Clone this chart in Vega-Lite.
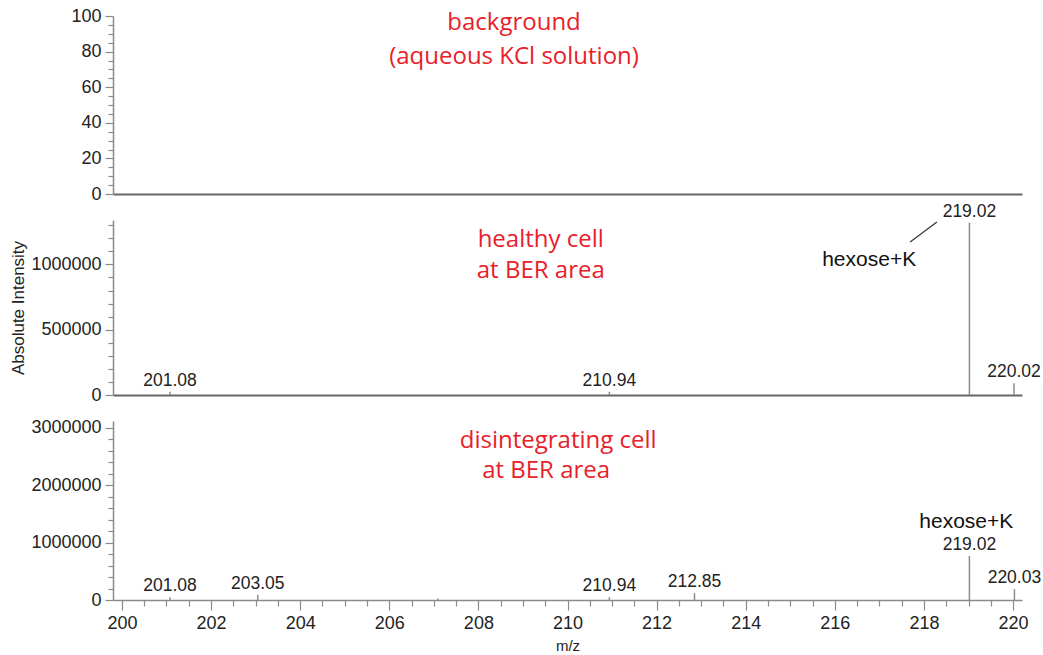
{
  "$schema": "https://vega.github.io/schema/vega-lite/v6.json",
  "padding": {"left": 9, "top": 7, "right": 0, "bottom": 0},
  "background": "white",
  "spacing": 26,
  "bounds": "flush",
  "config": {
    "view": {"stroke": null},
    "font": "Liberation Sans",
    "axis": {
      "grid": false,
      "labelOverlap": false,
      "domainColor": "#8a8a8a",
      "domainWidth": 1.5,
      "tickColor": "#8a8a8a",
      "tickWidth": 1.2,
      "labelFont": "Liberation Sans",
      "labelFontSize": 18,
      "labelColor": "#222222",
      "labelPadding": 4,
      "titleFont": "Liberation Sans",
      "titleFontWeight": "normal",
      "titleColor": "#222222"
    }
  },
  "datasets": {
    "mid": [
      {"mz": 201.08, "intensity": 25000, "label": "201.08"},
      {"mz": 210.94, "intensity": 25000, "label": "210.94"},
      {"mz": 219.02, "intensity": 1320000, "label": "219.02"},
      {"mz": 220.02, "intensity": 90000, "label": "220.02"}
    ],
    "bot": [
      {"mz": 201.08, "intensity": 50000, "label": "201.08"},
      {"mz": 203.05, "intensity": 90000, "label": "203.05"},
      {"mz": 207.09, "intensity": 25000, "label": ""},
      {"mz": 210.94, "intensity": 50000, "label": "210.94"},
      {"mz": 212.85, "intensity": 120000, "label": "212.85"},
      {"mz": 219.02, "intensity": 770000, "label": "219.02"},
      {"mz": 220.03, "intensity": 190000, "label": "220.03"}
    ]
  },
  "vconcat": [
    {
      "width": 909,
      "height": 178,
      "data": {"values": [
        {"mz": 208.8, "y": 96, "text": "background"},
        {"mz": 208.8, "y": 77, "text": "(aqueous KCl solution)"}
      ]},
      "mark": {"type": "text", "font": "Open Sans", "fontSize": 24, "color": "#e8202a", "align": "center", "baseline": "middle"},
      "encoding": {
        "x": {"field": "mz", "type": "quantitative", "scale": {"domain": [199.8, 220.2], "nice": false, "zero": false},
              "axis": {"title": null, "labels": false, "ticks": false, "domainColor": "#666666", "domainWidth": 2}},
        "y": {"field": "y", "type": "quantitative", "scale": {"domain": [0, 100], "nice": false},
              "axis": {"title": null, "labelOverlap": false, "values": [0,5,10,15,20,25,30,35,40,45,50,55,60,65,70,75,80,85,90,95,100],
                       "labelExpr": "datum.value % 20 === 0 ? datum.label : ''",
                       "tickSize": {"condition": {"test": "datum.value % 20 === 0", "value": 8}, "value": 5}}},
        "text": {"field": "text"}
      }
    },
    {
      "width": 909,
      "height": 175,
      "encoding": {
        "x": {"field": "mz", "type": "quantitative", "scale": {"domain": [199.8, 220.2], "nice": false, "zero": false},
              "axis": {"title": null, "labels": false, "ticks": false, "domainColor": "#666666", "domainWidth": 2}},
        "y": {"field": "intensity", "type": "quantitative", "scale": {"domain": [0, 1340000], "nice": false},
              "axis": {"title": "Absolute Intensity", "titleFontSize": 17, "titlePadding": 3, "labelOverlap": false,
                       "values": [0,100000,200000,300000,400000,500000,600000,700000,800000,900000,1000000,1100000,1200000,1300000],
                       "labelExpr": "(datum.value == 0 || datum.value == 500000 || datum.value == 1000000) ? ('' + datum.value) : ''",
                       "tickSize": {"condition": {"test": "datum.value == 0 || datum.value == 500000 || datum.value == 1000000", "value": 8}, "value": 5}}}
      },
      "layer": [
        {
          "data": {"name": "mid"},
          "mark": {"type": "rule", "color": "#8c8c8c", "strokeWidth": 1.5},
          "encoding": {"y2": {"datum": 0}}
        },
        {
          "data": {"name": "mid"},
          "mark": {"type": "text", "baseline": "bottom", "dy": -2, "fontSize": 17.5, "color": "#222222"},
          "encoding": {"text": {"field": "label"}}
        },
        {
          "data": {"values": [
            {"mz": 209.4, "intensity": 1185000, "text": "healthy cell"},
            {"mz": 209.4, "intensity": 950000, "text": "at BER area"}
          ]},
          "mark": {"type": "text", "font": "Open Sans", "fontSize": 24, "color": "#e8202a", "align": "center", "baseline": "middle"},
          "encoding": {"text": {"field": "text"}}
        },
        {
          "data": {"values": [{"mz": 216.77, "intensity": 1035000, "text": "hexose+K"}]},
          "mark": {"type": "text", "fontSize": 21, "color": "#111111", "align": "center", "baseline": "middle"},
          "encoding": {"text": {"field": "text"}}
        },
        {
          "data": {"values": [{"mz": 217.69, "mz2": 218.29, "intensity": 1172000, "intensity2": 1324000}]},
          "mark": {"type": "rule", "color": "#333333", "strokeWidth": 1.2},
          "encoding": {"x2": {"field": "mz2"}, "y2": {"field": "intensity2"}}
        }
      ]
    },
    {
      "width": 909,
      "height": 179,
      "encoding": {
        "x": {"field": "mz", "type": "quantitative", "scale": {"domain": [199.8, 220.2], "nice": false, "zero": false},
              "axis": {"title": "m/z", "titleFontSize": 15, "titlePadding": 6, "labelOverlap": false,
                       "values": [200,200.5,201,201.5,202,202.5,203,203.5,204,204.5,205,205.5,206,206.5,207,207.5,208,208.5,209,209.5,210,210.5,211,211.5,212,212.5,213,213.5,214,214.5,215,215.5,216,216.5,217,217.5,218,218.5,219,219.5,220],
                       "labelExpr": "datum.value % 2 === 0 ? ('' + datum.value) : ''",
                       "tickSize": {"condition": {"test": "datum.value % 2 === 0", "value": 10}, "value": 6}}},
        "y": {"field": "intensity", "type": "quantitative", "scale": {"domain": [0, 3120000], "nice": false},
              "axis": {"title": null, "labelOverlap": false,
                       "values": [0,200000,400000,600000,800000,1000000,1200000,1400000,1600000,1800000,2000000,2200000,2400000,2600000,2800000,3000000],
                       "labelExpr": "(datum.value == 0 || datum.value == 1000000 || datum.value == 2000000 || datum.value == 3000000) ? ('' + datum.value) : ''",
                       "tickSize": {"condition": {"test": "datum.value == 0 || datum.value == 1000000 || datum.value == 2000000 || datum.value == 3000000", "value": 8}, "value": 5}}}
      },
      "layer": [
        {
          "data": {"name": "bot"},
          "mark": {"type": "rule", "color": "#8c8c8c", "strokeWidth": 1.5},
          "encoding": {"y2": {"datum": 0}}
        },
        {
          "data": {"name": "bot"},
          "mark": {"type": "text", "baseline": "bottom", "dy": -2, "fontSize": 17.5, "color": "#222222"},
          "encoding": {"text": {"field": "label"}}
        },
        {
          "data": {"values": [
            {"mz": 209.79, "intensity": 2780000, "text": "disintegrating cell"},
            {"mz": 209.52, "intensity": 2240000, "text": "at BER area"}
          ]},
          "mark": {"type": "text", "font": "Open Sans", "fontSize": 24, "color": "#e8202a", "align": "center", "baseline": "middle"},
          "encoding": {"text": {"field": "text"}}
        },
        {
          "data": {"values": [{"mz": 218.95, "intensity": 1360000, "text": "hexose+K"}]},
          "mark": {"type": "text", "fontSize": 21, "color": "#111111", "align": "center", "baseline": "middle"},
          "encoding": {"text": {"field": "text"}}
        }
      ]
    }
  ]
}
